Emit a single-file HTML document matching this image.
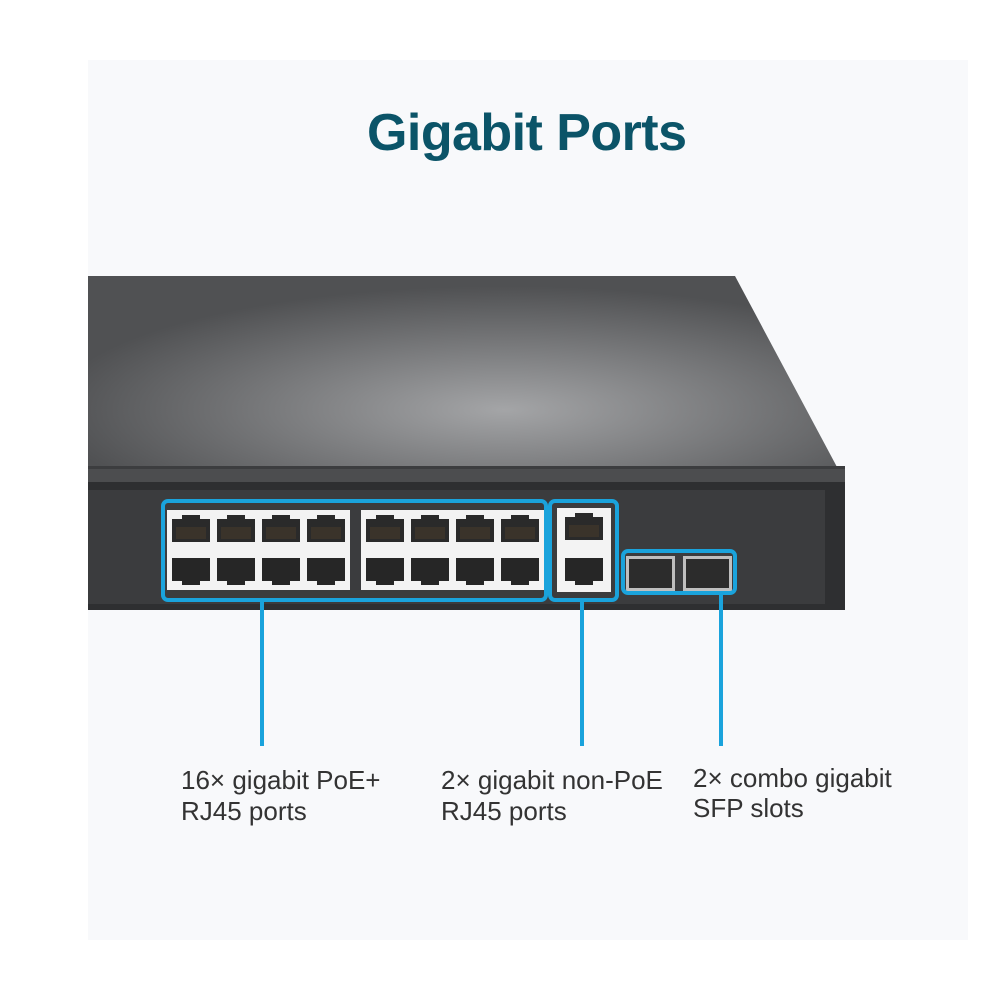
<!DOCTYPE html>
<html><head><meta charset="utf-8"><style>
html,body{margin:0;padding:0;background:#fff;}
svg{display:block}
</style></head><body>
<svg width="1000" height="1000" viewBox="0 0 1000 1000" xmlns="http://www.w3.org/2000/svg">
<defs>
<radialGradient id="top2" cx="0.55" cy="0.65" r="0.6">
<stop offset="0" stop-color="#a4a5a7"/><stop offset="1" stop-color="#505153"/>
</radialGradient>
<g id="pt"><path d="M0,4 H10 V0 H28 V4 H38 V27 H0 Z" fill="#2a2a2a"/><rect x="4" y="12" width="30" height="12" fill="#3a332a"/></g>
<g id="pb"><path d="M0,0 H38 V23 H28 V27 H10 V23 H0 Z" fill="#262626"/></g>
<g id="blk">
<rect x="0" y="0" width="183" height="80" fill="#f3f3f3"/>
<use href="#pt" x="5" y="5"/><use href="#pt" x="50" y="5"/><use href="#pt" x="95" y="5"/><use href="#pt" x="140" y="5"/>
<use href="#pb" x="5" y="48"/><use href="#pb" x="50" y="48"/><use href="#pb" x="95" y="48"/><use href="#pb" x="140" y="48"/>
</g>
</defs>
<rect x="88" y="60" width="880" height="880" fill="#f8f9fb"/>
<text x="527" y="150" text-anchor="middle" font-family="Liberation Sans, sans-serif" font-size="52" font-weight="bold" fill="#0b5468" textLength="320">Gigabit Ports</text>
<polygon points="88,276 735,276 845,482 88,482" fill="url(#top2)"/>
<rect x="88" y="466" width="757" height="3" fill="#3c3d3f"/>
<rect x="88" y="469" width="757" height="14" fill="#4c4d4f"/>
<rect x="88" y="482" width="757" height="128" fill="#2e2f31"/>
<rect x="88" y="490" width="737" height="114" fill="#3b3c3e"/>
<use href="#blk" x="167" y="510"/>
<use href="#blk" x="361" y="510"/>
<rect x="557" y="508" width="54" height="84" fill="#f3f3f3"/>
<use href="#pt" x="565" y="513"/>
<use href="#pb" x="565" y="558"/>
<rect x="626" y="556" width="49" height="35" fill="#bfbfbf"/><rect x="629" y="559" width="43" height="29" fill="#2c2c2c"/>
<rect x="683" y="556" width="49" height="35" fill="#bfbfbf"/><rect x="686" y="559" width="43" height="29" fill="#2c2c2c"/>
<g fill="none" stroke="#1aa3dc" stroke-width="4">
<rect x="163" y="501" width="383" height="99" rx="5"/>
<rect x="550" y="501" width="67" height="99" rx="5"/>
<rect x="623" y="551" width="112" height="42" rx="5"/>
<line x1="262" y1="600" x2="262" y2="746"/>
<line x1="582" y1="600" x2="582" y2="746"/>
<line x1="721" y1="593" x2="721" y2="746"/>
</g>
<g font-family="Liberation Sans, sans-serif" font-size="26" fill="#333">
<text x="181" y="789">16× gigabit PoE+</text>
<text x="181" y="820">RJ45 ports</text>
<text x="441" y="789">2× gigabit non-PoE</text>
<text x="441" y="820">RJ45 ports</text>
<text x="693" y="787">2× combo gigabit</text>
<text x="693" y="817">SFP slots</text>
</g>
</svg>
</body></html>
